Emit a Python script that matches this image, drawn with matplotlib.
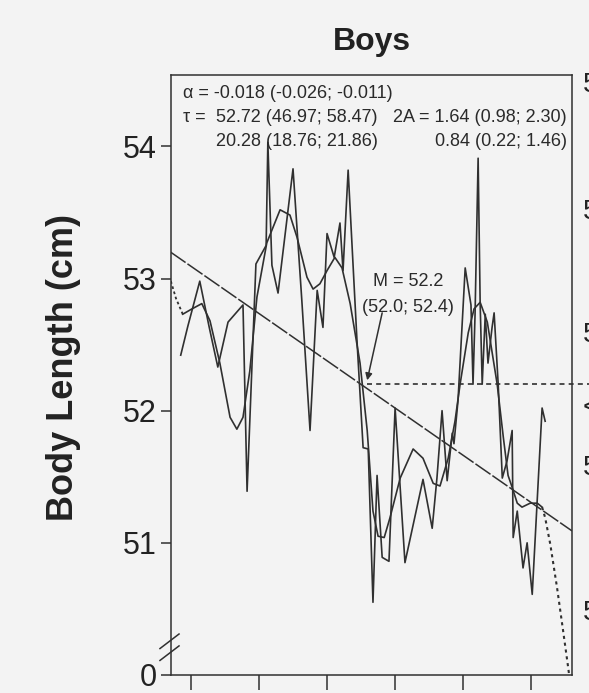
import matplotlib
matplotlib.use("Agg")
import matplotlib.pyplot as plt

plt.rcParams['font.family'] = ['Liberation Sans', 'DejaVu Sans']

# weekly body length at birth (raw series)
raw_weeks = [-2.9, -0.8, 2.7, 5.4, 8.0, 11.0, 15.4, 16.6, 19.2, 22.2, 22.7, 23.9,
             25.7, 30.1, 32.7, 35.1, 37.2, 38.9, 40.1, 42.2, 43.9, 44.8, 46.3, 48.9,
             50.7, 52.2, 53.6, 54.8, 56.3, 58.3, 60.1, 63.0, 68.3, 71.0, 72.4, 73.9,
             75.4, 76.9, 77.4, 78.6, 80.7, 82.4, 83.0, 83.6, 84.5, 85.1, 85.7, 86.6,
             87.4, 88.6, 89.2, 90.4, 91.6, 93.0, 94.5, 94.8, 96.0, 97.7, 98.9, 100.4,
             103.3, 104.2]
raw_length = [52.42, 52.64, 52.98, 52.64, 52.33, 52.67, 52.80, 51.39, 53.11, 53.25, 54.03, 53.10,
              52.89, 53.83, 52.83, 51.85, 52.91, 52.63, 53.34, 53.16, 53.42, 53.06, 53.82, 52.53,
              51.72, 51.71, 50.55, 51.51, 50.89, 50.86, 52.02, 50.85, 51.48, 51.11, 51.49, 52.00,
              51.47, 51.83, 51.75, 52.08, 53.08, 52.80, 52.20, 52.73, 53.91, 52.81, 52.20, 52.73,
              52.36, 52.63, 52.74, 52.20, 51.49, 51.62, 51.85, 51.04, 51.24, 50.81, 51.00, 50.61,
              52.02, 51.92]

# fitted cosinor curve (solid part)
fit_weeks = [-2.3, 0.4, 3.3, 5.7, 8.6, 11.6, 13.6, 15.4, 17.4, 19.5, 22.4, 26.3,
             29.2, 31.3, 34.2, 36.0, 38.0, 40.1, 42.4, 44.5, 46.9, 49.8, 51.9, 53.6,
             55.1, 56.9, 58.6, 61.6, 65.4, 68.3, 71.3, 73.3, 75.7, 77.7, 79.2, 81.6,
             83.3, 85.1, 87.2, 90.1, 91.9, 93.3, 94.5, 96.0, 97.4, 99.8, 101.9, 103.3]
fit_length = [52.73, 52.77, 52.81, 52.68, 52.36, 51.95, 51.86, 51.95, 52.30, 52.86, 53.27, 53.52,
              53.48, 53.31, 53.01, 52.92, 52.96, 53.06, 53.16, 53.08, 52.81, 52.36, 51.85, 51.24,
              51.05, 51.04, 51.19, 51.49, 51.71, 51.64, 51.45, 51.43, 51.64, 51.92, 52.20, 52.59,
              52.77, 52.82, 52.67, 52.20, 51.80, 51.51, 51.42, 51.30, 51.27, 51.30, 51.30, 51.27]

# dotted extrapolation of the fit at both ends
fit_left_weeks = [-5.8, -4.3, -2.3]
fit_left_length = [52.98, 52.85, 52.73]
fit_right_weeks = [103.3, 104.2, 105.7, 107.7, 109.5, 111.0, 111.3]
fit_right_length = [51.27, 51.19, 50.99, 50.66, 50.33, 50.05, 49.99]

# linear trend (alpha = -0.018)
trend_weeks = [-5.9, 112.1]
trend_length = [53.20, 51.09]

mesor = 52.2
mesor_start = 51.9

y_ticks = [50, 51, 52, 53, 54]
y_ticklabels = ['0', '51', '52', '53', '54']
x_ticks = [0, 20, 40, 60, 80, 100]

bg = '#f3f3f3'
ink = '#303030'

fig = plt.figure(figsize=(5.89, 6.93), dpi=100, facecolor=bg)
ax = fig.add_axes([0.2895, 0.026, 0.6817, 0.8658], facecolor=bg)

ax.plot(raw_weeks, raw_length, color=ink, lw=1.2)
ax.plot(fit_weeks, fit_length, color=ink, lw=1.2)
ax.plot(fit_left_weeks, fit_left_length, color=ink, lw=1.3, ls=(0, (1.5, 1.5)))
ax.plot(fit_right_weeks, fit_right_length, color=ink, lw=1.5, ls=(0, (1.5, 1.8)),
        clip_on=False)
ax.plot(trend_weeks, trend_length, color=ink, lw=1.1, ls=(0, (12, 1.5)))
ax.plot([mesor_start, 117.5], [mesor, mesor], color=ink, lw=1.2,
        ls=(0, (3, 2.5)), clip_on=False)

ax.set_xlim(-5.9, 112.1)
ax.set_ylim(50, 54.54)
ax.set_xticks(x_ticks)
ax.set_xticklabels([])
ax.set_yticks(y_ticks)
ax.set_yticklabels(y_ticklabels)
ax.tick_params(axis='x', direction='out', length=11, width=1.1, color=ink)
ax.tick_params(axis='y', direction='out', length=7, width=1.1, color=ink,
               labelsize=22, pad=3, labelcolor='#222222')
for s in ax.spines.values():
    s.set_color(ink)
    s.set_linewidth(1.1)

# axis break marks on the y axis
for dy in (0.0, -0.09):
    ax.plot([-9.0, -3.4], [50.20 + dy, 50.31 + dy], color=ink, lw=1.1,
            clip_on=False)

# parameter block
fs = 13
tc = '#2a2a2a'
ax.text(-2.2, 54.40, 'α = -0.018 (-0.026; -0.011)', fontsize=fs, color=tc, va='center')
ax.text(-2.2, 54.22, 'τ =', fontsize=fs, color=tc, va='center')
ax.text(7.6, 54.22, '52.72 (46.97; 58.47)', fontsize=fs, color=tc, va='center')
ax.text(7.6, 54.04, '20.28 (18.76; 21.86)', fontsize=fs, color=tc, va='center')
ax.text(110.6, 54.22, '2A = 1.64 (0.98; 2.30)', fontsize=fs, color=tc, va='center', ha='right')
ax.text(110.6, 54.04, '0.84 (0.22; 1.46)', fontsize=fs, color=tc, va='center', ha='right')

ax.text(64.0, 52.98, 'M = 52.2', fontsize=fs, color=tc, va='center', ha='center')
ax.text(64.0, 52.78, '(52.0; 52.4)', fontsize=fs, color=tc, va='center', ha='center')
ax.annotate('', xy=(51.9, 52.23), xytext=(56.3, 52.74),
            arrowprops=dict(arrowstyle='-|>', color=ink, lw=1.1,
                            mutation_scale=10, shrinkA=0, shrinkB=0))

fig.text(0.632, 0.9278, 'Boys', fontsize=23, fontweight='bold', ha='center',
         va='baseline', color='#222222')
fig.text(0.107, 0.47, 'Body Length (cm)', fontsize=26, fontweight='bold',
         rotation=90, ha='center', va='center', color='#222222')

# tick labels of the neighbouring panel, cut by the page edge
for ypx, s in [(85, '5'), (212, '5'), (335, '5'), (408, '<'), (468, '5'), (613, '5')]:
    fig.text(583 / 589, 1 - ypx / 693, s, fontsize=20, ha='left', va='center',
             color='#222222')

fig.savefig('out.png', dpi=100, facecolor=bg)
